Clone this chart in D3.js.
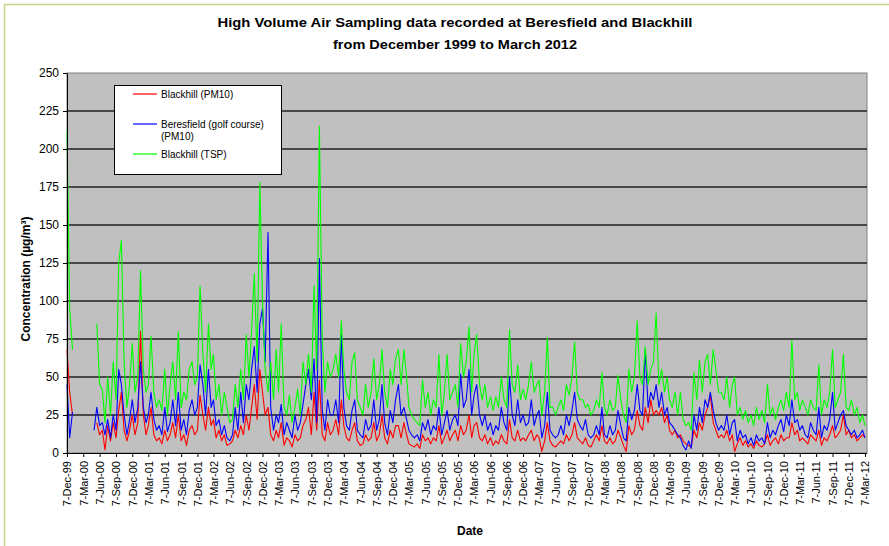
<!DOCTYPE html>
<html>
<head>
<meta charset="utf-8">
<script src="https://cdn.jsdelivr.net/npm/d3@7"></script>
<style>
  html, body { margin: 0; padding: 0; background: #ffffff; }
  svg { display: block; font-family: Arial, "Liberation Sans", sans-serif; }
</style>
</head>
<body>
<svg id="chart" width="889" height="546"></svg>
<script>
// High volume air sampler results, sampled twice monthly (7th and 22nd)
// from 7 Dec 1999 to 7 Mar 2012. null = no sample.
const N = null;

const blackhillPM10 = [
  /* 1999 */ [68, 40],
  /* 2000 */ [25, N, N, N, N, N, N, N, N, 20, 12, 15, 2, 18, 8, 20, 10, 28, 40, 15, 8, 15, 25, 12],
  /* 2001 */ [20, 80, 25, 12, 18, 30, 12, 8, 10, 6, 15, 8, 12, 20, 10, 25, 8, 12, 5, 15, 18, 12, 15, 38],
  /* 2002 */ [25, 15, 30, 18, 22, 10, 15, 8, 12, 5, 6, 8, 15, 10, 18, 12, 25, 15, 30, 45, 22, 55, 40, 25],
  /* 2003 */ [30, 12, 8, 15, 10, 20, 5, 10, 8, 4, 12, 8, 10, 18, 22, 30, 12, 40, 15, 48, 12, 8, 20, 12],
  /* 2004 */ [15, 22, 12, 35, 18, 10, 8, 15, 20, 8, 5, 6, 12, 8, 10, 20, 8, 12, 25, 10, 6, 15, 10, 18],
  /* 2005 */ [18, 10, 20, 12, 6, 5, 4, 6, 3, 12, 8, 10, 6, 10, 8, 18, 6, 10, 15, 8, 12, 15, 8, 18],
  /* 2006 */ [12, 15, 25, 10, 18, 20, 10, 8, 12, 6, 10, 5, 8, 6, 12, 8, 6, 22, 10, 8, 15, 8, 10, 8],
  /* 2007 */ [12, 15, 8, 12, 10, 1, 8, 20, 8, 5, 4, 6, 8, 6, 12, 8, 12, 20, 10, 8, 6, 10, 5, 4],
  /* 2008 */ [8, 12, 8, 18, 8, 6, 10, 6, 8, 15, 10, 5, 1, 18, 12, 15, 28, 18, 15, 30, 20, 35, 25, 28],
  /* 2009 */ [25, 30, 20, 25, 15, 12, 15, 10, 12, 8, 6, 5, 4, 15, 10, 20, 15, 25, 30, 38, 20, 15, 10, 12],
  /* 2010 */ [10, 15, 8, 12, 1, 6, 10, 5, 8, 4, 6, 3, 8, 5, 4, 6, 12, 5, 8, 10, 6, 12, 8, 10],
  /* 2011 */ [10, 20, 12, 15, 8, 10, 8, 6, 12, 10, 8, 15, 5, 10, 8, 12, 18, 10, 12, 15, 25, 12, 15, 10],
  /* 2012 */ [12, 8, 10, 12, 10]
].flat();

const beresfieldPM10 = [
  /* 1999 */ [45, 10],
  /* 2000 */ [27, N, N, N, N, N, N, N, 15, 30, 18, 20, 12, 22, 10, 25, 15, 55, 45, 25, 12, 22, 35, 20],
  /* 2001 */ [30, 60, 30, 20, 25, 40, 22, 15, 18, 12, 30, 14, 20, 35, 18, 40, 15, 22, 12, 28, 35, 25, 30, 58],
  /* 2002 */ [45, 25, 55, 30, 35, 18, 22, 12, 18, 10, 8, 12, 30, 15, 40, 20, 45, 35, 55, 70, 40, 85, 95, 60],
  /* 2003 */ [145, 30, 15, 25, 20, 32, 12, 20, 15, 10, 25, 15, 20, 32, 45, 55, 35, 62, 20, 128, 28, 15, 35, 25],
  /* 2004 */ [25, 35, 20, 78, 30, 18, 15, 28, 35, 15, 12, 10, 22, 15, 18, 35, 15, 22, 45, 20, 12, 28, 20, 35],
  /* 2005 */ [45, 25, 30, 22, 15, 12, 10, 12, 8, 20, 15, 22, 12, 18, 15, 30, 12, 20, 28, 15, 22, 25, 18, 52],
  /* 2006 */ [30, 35, 55, 25, 38, 45, 25, 18, 25, 15, 20, 12, 18, 15, 30, 20, 15, 50, 25, 18, 35, 20, 25, 18],
  /* 2007 */ [20, 35, 18, 25, 28, 10, 18, 40, 15, 12, 10, 12, 18, 12, 25, 18, 28, 40, 22, 18, 15, 22, 12, 10],
  /* 2008 */ [12, 18, 12, 30, 12, 10, 18, 12, 15, 28, 18, 10, 8, 30, 22, 28, 45, 28, 25, 68, 30, 40, 35, 45],
  /* 2009 */ [30, 40, 25, 30, 20, 18, 15, 12, 10, 5, 2, 8, 3, 25, 15, 30, 20, 35, 30, 40, 28, 20, 15, 18],
  /* 2010 */ [15, 25, 12, 20, 22, 8, 15, 10, 12, 6, 10, 5, 12, 8, 10, 6, 20, 10, 15, 12, 18, 22, 14, 25],
  /* 2011 */ [18, 35, 20, 22, 15, 18, 12, 10, 20, 15, 12, 30, 10, 18, 15, 22, 40, 15, 20, 25, 28, 18, 15, 12],
  /* 2012 */ [15, 10, 12, 15, 10]
].flat();

const blackhillTSP = [
  /* 1999 */ [212, 95],
  /* 2000 */ [68, N, N, N, N, N, N, N, N, 85, 45, 42, 20, 50, 25, 60, 35, 125, 140, 60, 30, 45, 72, 40],
  /* 2001 */ [50, 120, 55, 40, 45, 77, 40, 30, 35, 28, 55, 25, 45, 60, 35, 80, 30, 40, 35, 55, 60, 45, 50, 110],
  /* 2002 */ [65, 40, 85, 55, 65, 35, 45, 25, 40, 30, 20, 22, 45, 30, 55, 35, 78, 50, 80, 118, 60, 178, 100, 55],
  /* 2003 */ [40, 60, 35, 68, 40, 85, 30, 25, 38, 20, 30, 42, 25, 60, 45, 65, 40, 110, 55, 215, 75, 40, 60, 50],
  /* 2004 */ [55, 65, 50, 87, 55, 40, 35, 60, 66, 35, 30, 25, 45, 30, 40, 62, 35, 45, 68, 40, 30, 55, 45, 62],
  /* 2005 */ [68, 45, 68, 50, 30, 25, 22, 20, 18, 48, 30, 40, 25, 35, 30, 65, 25, 40, 65, 35, 40, 45, 30, 72],
  /* 2006 */ [50, 60, 83, 40, 65, 78, 45, 35, 45, 30, 37, 28, 37, 30, 50, 35, 30, 81, 45, 40, 58, 35, 42, 35],
  /* 2007 */ [45, 60, 40, 45, 48, 25, 40, 76, 30, 30, 25, 30, 35, 28, 45, 38, 50, 73, 40, 35, 35, 30, 32, 25],
  /* 2008 */ [28, 35, 30, 53, 30, 25, 35, 28, 30, 51, 35, 25, 20, 55, 40, 50, 87, 50, 45, 70, 45, 55, 60, 92],
  /* 2009 */ [45, 55, 40, 50, 35, 30, 40, 25, 40, 22, 18, 20, 15, 53, 35, 61, 40, 60, 65, 45, 68, 55, 40, 40],
  /* 2010 */ [35, 50, 30, 45, 50, 25, 30, 22, 28, 20, 25, 18, 30, 22, 28, 20, 45, 25, 30, 22, 30, 35, 28, 40],
  /* 2011 */ [30, 74, 35, 40, 28, 35, 30, 25, 35, 30, 28, 58, 25, 35, 30, 40, 68, 30, 35, 40, 65, 30, 28, 35],
  /* 2012 */ [25, 30, 20, 25, 18]
].flat();

const seriesNames = ["Blackhill (PM10)", "Beresfield (golf course) (PM10)", "Blackhill (TSP)"];
const seriesColors = ["#ff0000", "#0000ff", "#00ff00"];
const yTicks = [0, 25, 50, 75, 100, 125, 150, 175, 200, 225, 250];

// Sample dates: 7th and 22nd of every month, Dec 1999 .. 7 Mar 2012
const firstDate = new Date(1999, 11, 7);
const lastDate = new Date(2012, 2, 7);
const sampleDates = d3.timeMonth.range(new Date(1999, 11, 1), new Date(2012, 3, 1))
  .flatMap(m => [new Date(m.getFullYear(), m.getMonth(), 7), new Date(m.getFullYear(), m.getMonth(), 22)])
  .filter(d => d <= lastDate);

// Quarterly axis ticks
const xTickDates = d3.range(50).map(i => new Date(1999, 11 + 3 * i, 7));

const svg = d3.select("#chart");
const plot = { left: 67, top: 73, right: 867, bottom: 453 };

const x = d3.scaleTime().domain([firstDate, lastDate]).range([plot.left, 865]);
const y = d3.scaleLinear().domain([0, 250]).range([plot.bottom, plot.top]);

// outer chart frame
svg.append("rect")
  .attr("x", 4.5).attr("y", 4.5).attr("width", 920).attr("height", 620)
  .attr("fill", "none").attr("stroke", "#c6d284").attr("stroke-width", 1.5);

// titles
svg.append("text")
  .attr("x", 455).attr("y", 27)
  .attr("text-anchor", "middle")
  .attr("font-size", 13).attr("font-weight", "bold")
  .attr("textLength", 475).attr("lengthAdjust", "spacingAndGlyphs")
  .text("High Volume Air Sampling data recorded at Beresfield and Blackhill");
svg.append("text")
  .attr("x", 455).attr("y", 49)
  .attr("text-anchor", "middle")
  .attr("font-size", 13).attr("font-weight", "bold")
  .attr("textLength", 244).attr("lengthAdjust", "spacingAndGlyphs")
  .text("from December 1999 to March 2012");

// plot background
svg.append("rect")
  .attr("x", plot.left).attr("y", plot.top)
  .attr("width", plot.right - plot.left).attr("height", plot.bottom - plot.top)
  .attr("fill", "#c0c0c0")
  .attr("stroke", "#808080").attr("stroke-width", 1);

// horizontal gridlines
svg.append("g")
  .selectAll("line")
  .data(yTicks.filter(v => v > 0 && v < 250))
  .join("line")
  .attr("x1", plot.left).attr("x2", plot.right)
  .attr("y1", d => y(d)).attr("y2", d => y(d))
  .attr("stroke", "#222").attr("stroke-width", 1.5);

// series lines
const seriesData = [blackhillPM10, beresfieldPM10, blackhillTSP];
const line = d3.line()
  .defined(d => d.v !== null)
  .x(d => x(d.date))
  .y(d => y(d.v));

const lines = svg.append("g");
seriesData.forEach((vals, i) => {
  const pts = sampleDates.map((date, j) => ({ date, v: vals[j] === undefined ? null : vals[j] }));
  lines.append("path")
    .datum(pts)
    .attr("fill", "none")
    .attr("stroke", seriesColors[i])
    .attr("stroke-width", 1.1)
    .attr("stroke-linejoin", "round")
    .attr("d", line);
});

// axes
const yAxis = svg.append("g")
  .attr("transform", `translate(${plot.left},0)`)
  .call(d3.axisLeft(y).tickValues(yTicks).tickSize(4).tickSizeOuter(0));
yAxis.select(".domain").attr("stroke", "#000");
yAxis.selectAll(".tick line").attr("stroke", "#000");
yAxis.selectAll("text")
  .attr("font-size", 12).attr("fill", "#000")
  .attr("x", -8);

const xAxis = svg.append("g")
  .attr("transform", `translate(0,${plot.bottom})`)
  .call(d3.axisBottom(x).tickValues(xTickDates)
    .tickFormat(d3.timeFormat("%-d-%b-%y")).tickSize(4).tickSizeOuter(0));
xAxis.select(".domain").attr("stroke", "#000").attr("d", `M${plot.left},0.5H${plot.right}`);
xAxis.selectAll(".tick line").attr("stroke", "#000");
xAxis.selectAll("text")
  .attr("font-size", 11).attr("fill", "#000")
  .attr("transform", "rotate(-90)")
  .attr("x", -8).attr("y", 0).attr("dy", "0.35em")
  .style("text-anchor", "end");

// axis titles
svg.append("text")
  .attr("transform", "translate(30,279) rotate(-90)")
  .attr("text-anchor", "middle")
  .attr("font-size", 12).attr("font-weight", "bold")
  .text("Concentration (µg/m³)");
svg.append("text")
  .attr("x", 470).attr("y", 535)
  .attr("text-anchor", "middle")
  .attr("font-size", 12).attr("font-weight", "bold")
  .text("Date");

// legend
const legend = svg.append("g");
legend.append("rect")
  .attr("x", 114.5).attr("y", 85.5).attr("width", 167).attr("height", 89)
  .attr("fill", "#fff").attr("stroke", "#000").attr("stroke-width", 1);
const legendRows = [
  { lines: ["Blackhill (PM10)"], y: 94 },
  { lines: ["Beresfield (golf course)", "(PM10)"], y: 124 },
  { lines: ["Blackhill (TSP)"], y: 154 }
];
legendRows.forEach((row, i) => {
  legend.append("line")
    .attr("x1", 133).attr("x2", 157)
    .attr("y1", row.y).attr("y2", row.y)
    .attr("stroke", seriesColors[i]).attr("stroke-width", 1.2);
  const t = legend.append("text")
    .attr("x", 161).attr("y", row.y + 3.5)
    .attr("font-size", 10).attr("fill", "#000");
  row.lines.forEach((s, k) => {
    t.append("tspan").attr("x", 161).attr("dy", k === 0 ? 0 : 12).text(s);
  });
});
</script>
</body>
</html>
